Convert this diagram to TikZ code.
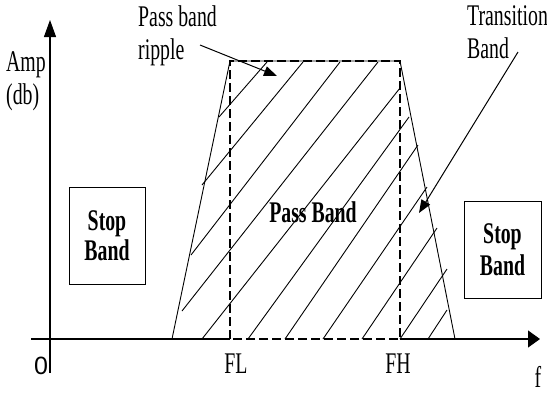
\documentclass[tikz,border=0pt]{standalone}
\usepackage{fontspec}
\setmainfont{Liberation Serif}[FakeStretch=0.66]
\newfontfamily\digitfont{Liberation Sans}
\usetikzlibrary{arrows.meta}
\newcommand{\lblfont}{\fontsize{30}{33}\selectfont}

\begin{document}
\begin{tikzpicture}[
		x=1pt, y=-1pt,
		thinline/.style={line width=0.9pt, black},
		axis/.style={line width=1.1pt, black},
		passedge/.style={line width=1.9pt, dash pattern=on 9pt off 4pt},
		hatch/.style={line width=0.9pt},
		pointer/.style={line width=1pt, -{Triangle[length=13pt,width=10pt]}},
		label/.style={font=\lblfont, inner sep=0pt},
		stopbox/.style={
			draw, line width=1pt, align=center, inner sep=0pt,
			minimum width=76pt, minimum height=97pt
		}
		]
		\useasboundingbox (0,0) rectangle (547,392);
		
		% Axes
		\coordinate (xstart)  at (31,339);
		\coordinate (xend)    at (540,339);
		\coordinate (ybottom) at (50,373);
		\coordinate (ytop)    at (50,20);
		
		% Corners of the response
		\coordinate (fl)     at (230,339);
		\coordinate (fh)     at (400,339);
		\coordinate (fltop)  at (230,61);
		\coordinate (fhtop)  at (400,61);
		\coordinate (slopel) at (172,339);
		\coordinate (sloper) at (455,339);
		
		\draw[axis, -{Triangle[length=17pt,width=12pt]}] (ybottom) -- (ytop);
		\draw[axis] (xstart) -- (fl);
		\draw[axis, -{Triangle[length=12pt,width=17pt]}] (fh) -- (xend);
		
		% Hatching (hand drawn, so given line by line)
		\foreach \xa/\ya/\xb/\yb in {
			219/117/267/62, 202/185/303/62, 191/255/340/62,
			182/311/378/62, 202/339/400/88, 248/339/409/117,
			285/339/418/145, 323/339/427/187, 362/339/437/228,
			400/339/447/269, 428/339/447/310}
		\draw[hatch] (\xa,\ya) -- (\xb,\yb);
		
		% Transition slopes and pass band
		\draw[thinline] (slopel) -- (fltop) -- (fhtop) -- (sloper);
		\draw[passedge] (fl) -- (fltop) -- (fhtop) -- (fh) -- cycle;
		
		% --- Labels (base = last line) ---
		\node[label, anchor=base west, align=left] (amp) at (6,104) {Amp\\(db)};
		\node[label, anchor=base west, align=left] (ripple) at (138,59) {Pass band\\ripple};
		\node[label, anchor=base west, align=left] (trans) at (467,58) {Transition\\Band};
		\node[label, anchor=base, font=\lblfont\bfseries] (pass) at (313,222) {Pass Band};
		
		\node[stopbox, font=\fontsize{30}{30}\selectfont\bfseries] (stopl) at (107,235.5) {Stop\\Band};
		\node[stopbox, font=\fontsize{30}{32}\selectfont\bfseries, minimum width=77pt] (stopr) at (502.5,249.5) {Stop\\Band};
		
		\node[label, anchor=base, font=\fontsize{25}{28}\selectfont\digitfont] (zero) at (41,374) {0};
		\node[label, anchor=base] (fllabel) at (236,373) {FL};
		\node[label, anchor=base] (fhlabel) at (398,373) {FH};
		\node[label, anchor=base] (flabel) at (538,387) {f};
		
		% Pointers
		\coordinate (rippletail) at (200,45);
		\coordinate (rippletip)  at (277,76);
		\coordinate (transtail)  at (518,52);
		\coordinate (transtip)   at (419,213);
		\draw[pointer] (rippletail) -- (rippletip);
		\draw[pointer] (transtail) -- (transtip);
		
	\end{tikzpicture}
\end{document}
